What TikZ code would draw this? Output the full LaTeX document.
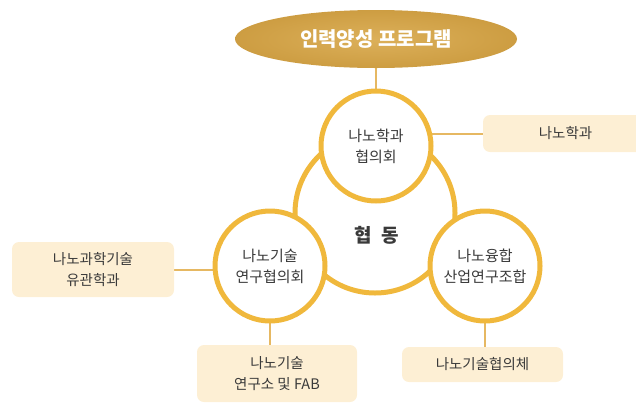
\documentclass[tikz,border=0pt]{standalone}
\usepackage{fontspec}
\newfontfamily\kr{Noto Sans CJK KR}
\usetikzlibrary{shapes.geometric,backgrounds}
\definecolor{ring}{HTML}{F0B83C}
\definecolor{link}{HTML}{E6B862}
\definecolor{boxfill}{HTML}{FDEFD4}
\definecolor{txt}{HTML}{3A3A3A}
\definecolor{goldin}{HTML}{DCB05A}
\definecolor{goldout}{HTML}{CD9D42}
\tikzset{
  ringnode/.style={circle,draw=ring,line width=5pt,fill=white,minimum size=110pt,inner sep=0pt,
    font=\kr\fontsize{15}{21}\selectfont,text=txt,align=center},
  infobox/.style={rounded corners=7pt,fill=boxfill,inner sep=0pt,
    font=\kr\fontsize{14.5}{21}\selectfont,text=txt,align=center},
  linkline/.style={draw=link,line width=2pt}
}
\begin{document}
\begin{tikzpicture}[x=1pt,y=-1pt]
\useasboundingbox (0,0) rectangle (636,405);
% program ellipse
\node[ellipse,shading=radial,inner color=goldin,outer color=goldout,minimum width=282pt,minimum height=58pt,inner sep=0pt,
  text=white,font=\kr\bfseries\fontsize{20}{22}\selectfont] (prog) at (376,39) {인력양성 프로그램};
% big circle
\node[circle,draw=ring,line width=5pt,minimum size=160pt,inner sep=0pt] (coop) at (375,213) {};
\node[font=\kr\bfseries\fontsize{19}{22}\selectfont,text=txt] (coopt) at (377,235) {협\hspace{0.5em}동};
% small circles
\node[ringnode] (top) at (376,146) {나노학과\\협의회};
\node[ringnode] (left) at (270,266) {나노기술\\연구협의회};
\node[ringnode] (right) at (485,266) {나노융합\\산업연구조합};
% boxes
\node[infobox,minimum width=165pt,minimum height=37pt] (nd) at (565.5,133.5) {나노학과};
\node[infobox,minimum width=162pt,minimum height=55pt] (lb) at (93,269.5) {나노과학기술\\유관학과};
\node[infobox,minimum width=160pt,minimum height=57pt] (blb) at (277,373.5) {나노기술\\연구소 및 FAB};
\node[infobox,minimum width=161pt,minimum height=35pt] (brb) at (482.5,364.5) {나노기술협의체};
% connectors
\begin{scope}[on background layer]
\draw[linkline] (prog.south) -- (top.center);
\draw[linkline] (nd.west) -- (nd.west -| top.center);
\draw[linkline] (lb.east) -- (lb.east -| left.center);
\draw[linkline] (left.center) -- (left.center |- blb.north);
\draw[linkline] (right.center) -- (right.center |- brb.north);
\end{scope}
\end{tikzpicture}
\end{document}
